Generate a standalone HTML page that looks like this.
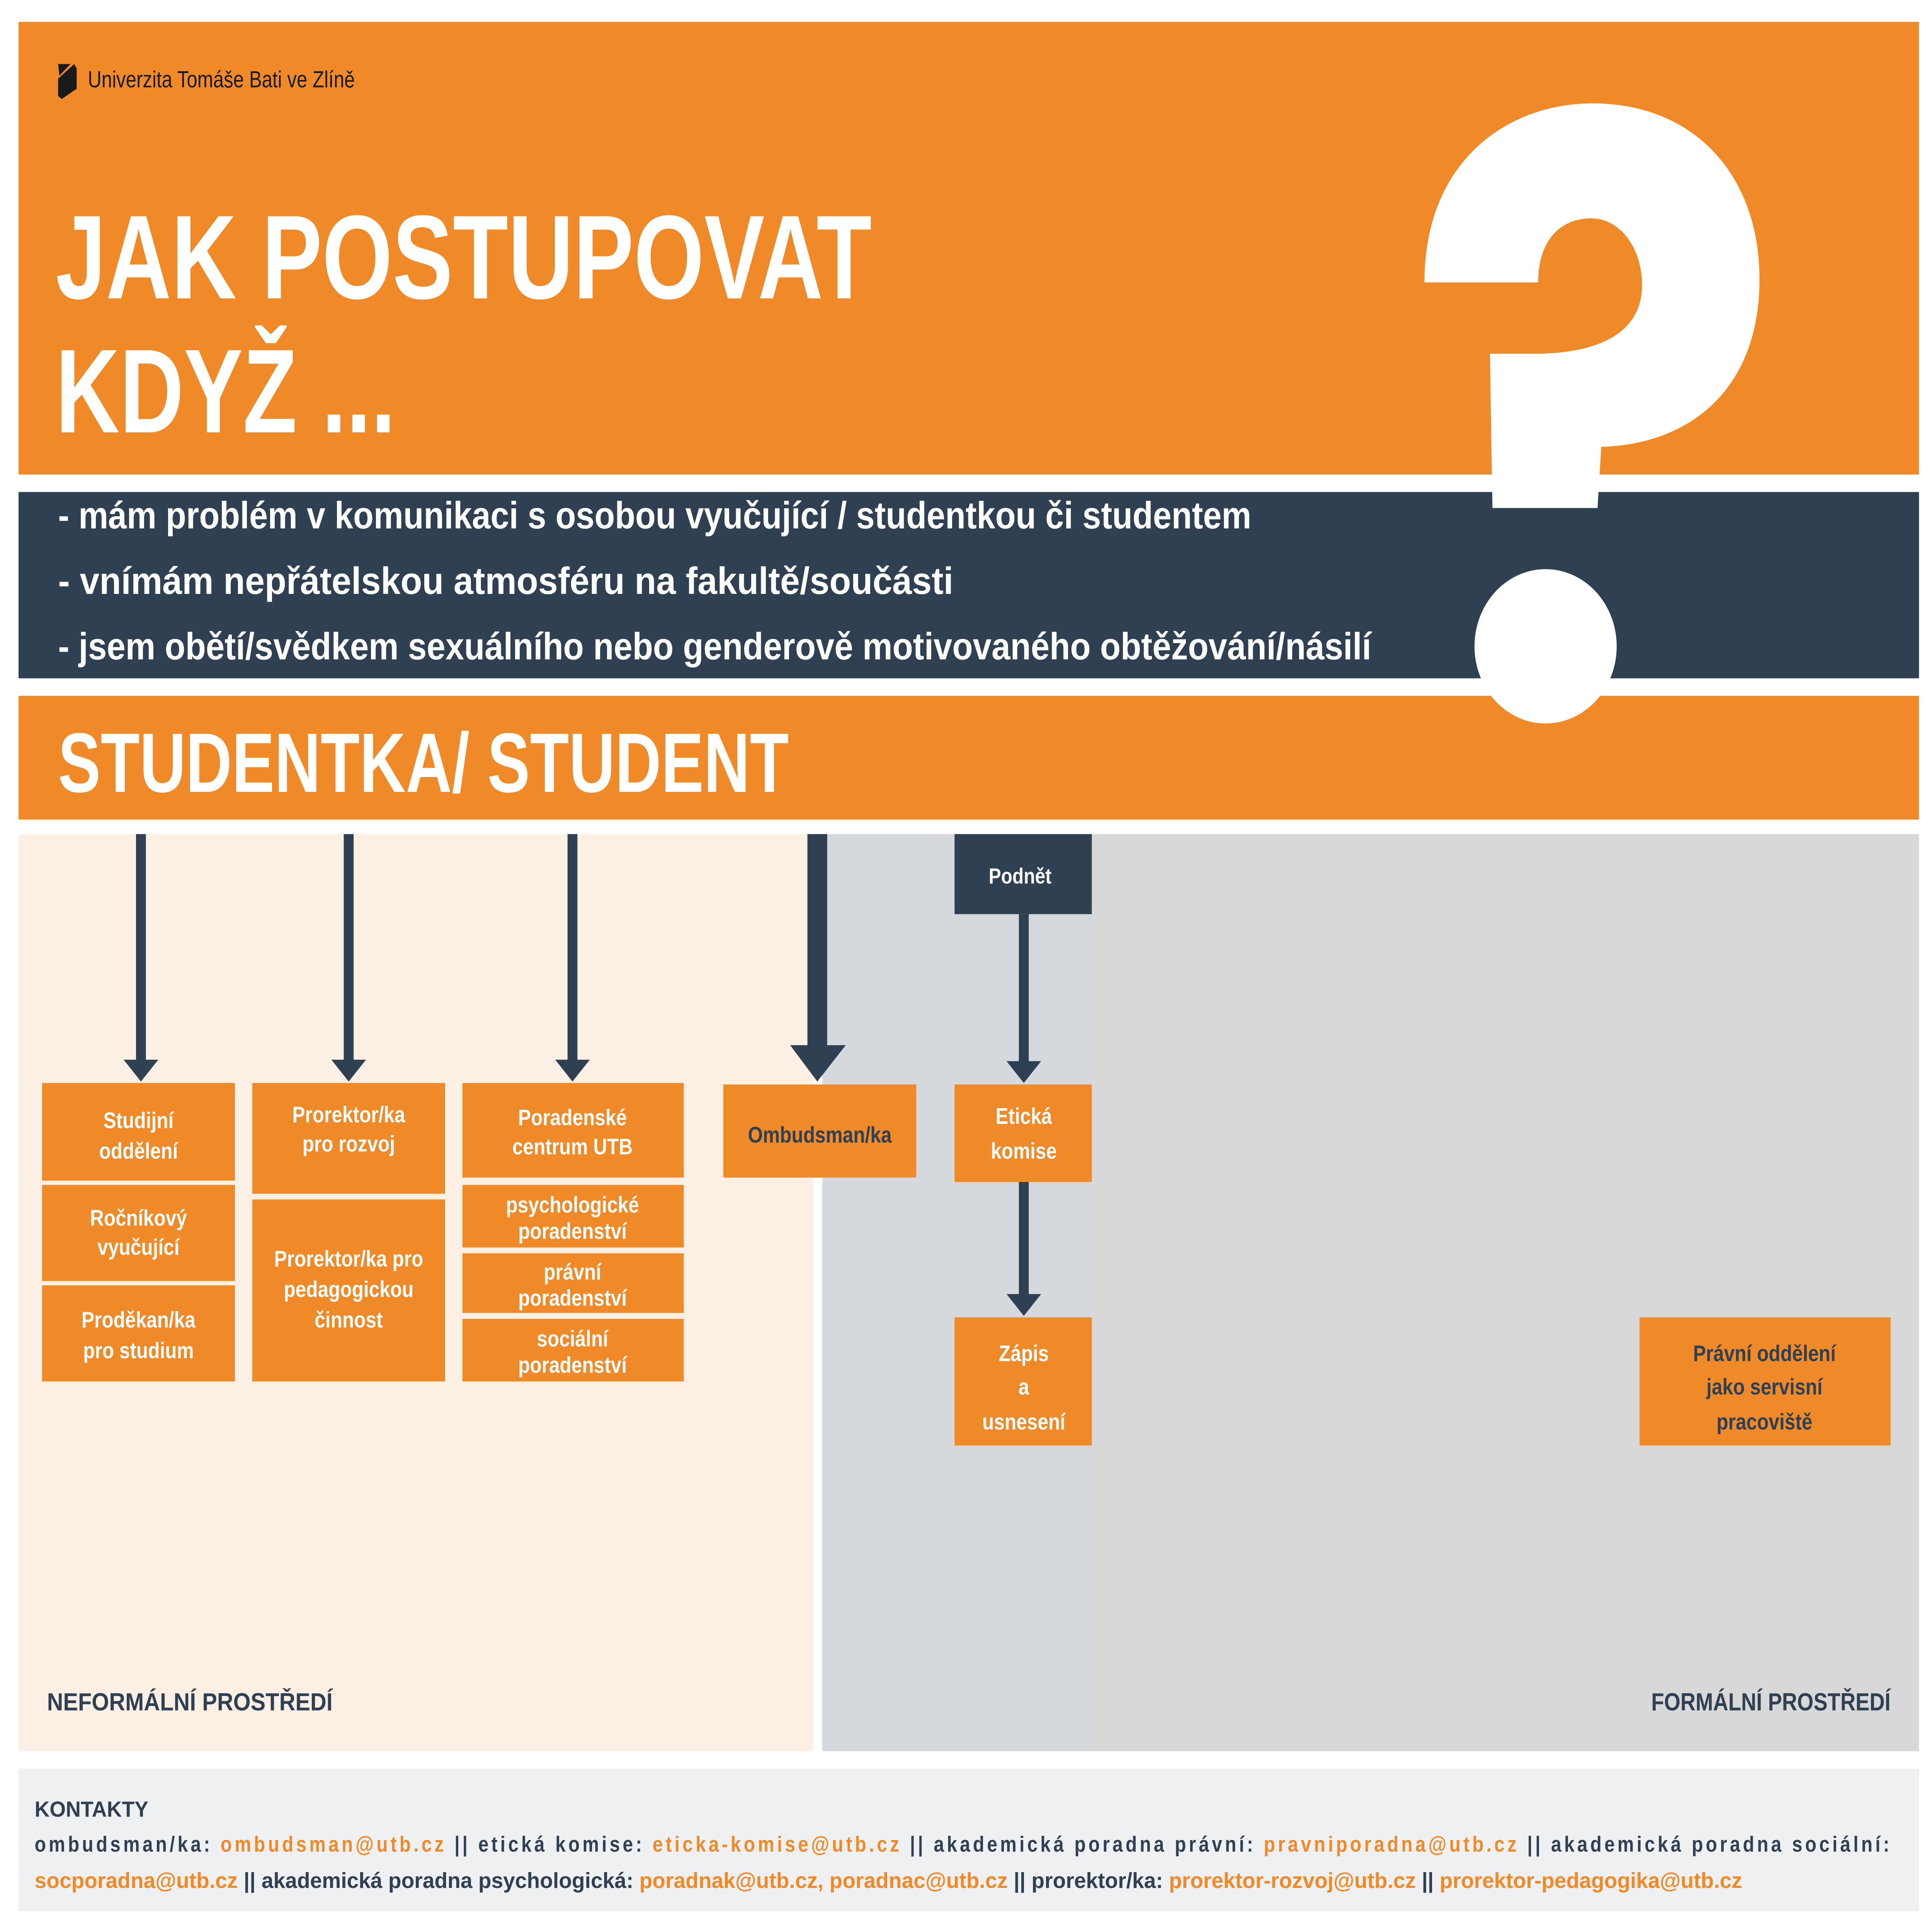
<!DOCTYPE html>
<html><head><meta charset="utf-8"><style>
html,body{margin:0;padding:0;background:#fff;overflow:hidden;width:100%;height:100%}
svg{display:block;width:100vw;height:100vh}
text{font-family:"Liberation Sans",sans-serif;font-weight:bold}
</style></head><body>
<svg viewBox="0 0 1562.5 1327.25" preserveAspectRatio="none" xmlns="http://www.w3.org/2000/svg">
<rect width="1562.5" height="1327.25" fill="#fff"/>
<rect x="15" y="15" width="1537" height="311" fill="#f08a28"/>
<path d="M47,44 L57,44 L48,52 Z M47,54 L60,44 L62,47 L62,61 L50,68 L47,66 Z" fill="#1a1a1a"/>
<text x="71" y="60" font-size="16" fill="#1a1a1a" style="font-weight:normal" textLength="216" lengthAdjust="spacingAndGlyphs">Univerzita Tomáše Bati ve Zlíně</text>
<text x="45" y="205" font-size="82" fill="#fff" textLength="660" lengthAdjust="spacingAndGlyphs">JAK POSTUPOVAT</text>
<text x="45" y="297" font-size="82" fill="#fff" textLength="275" lengthAdjust="spacingAndGlyphs">KDYŽ ...</text>
<rect x="15" y="338" width="1537" height="128" fill="#2f4053"/>
<text x="47" y="363" font-size="26" fill="#fff" textLength="965" lengthAdjust="spacingAndGlyphs">- mám problém v komunikaci s osobou vyučující / studentkou či studentem</text>
<text x="47" y="408" font-size="26" fill="#fff" textLength="724" lengthAdjust="spacingAndGlyphs">- vnímám nepřátelskou atmosféru na fakultě/součásti</text>
<text x="47" y="453" font-size="26" fill="#fff" textLength="1062" lengthAdjust="spacingAndGlyphs">- jsem obětí/svědkem sexuálního nebo genderově motivovaného obtěžování/násilí</text>
<rect x="15" y="478" width="1537" height="85" fill="#f08a28"/>
<text x="47" y="544" font-size="58" fill="#fff" textLength="591" lengthAdjust="spacingAndGlyphs">STUDENTKA/ STUDENT</text>
<path d="M1152,194 C1152,110 1220,71 1288,71 C1370,71 1423,120 1423,192 C1423,265 1370,305 1295,307 L1292,349 L1207,349 L1205,243 L1240,243 C1300,243 1328,225 1328,196 C1328,170 1310,150 1287,150 C1262,150 1244,165 1244,194 Z" fill="#fff"/>
<ellipse cx="1250" cy="444" rx="57.5" ry="53" fill="#fff"/>
<rect x="15" y="573" width="643" height="630" fill="#fcefe3"/>
<rect x="665" y="573" width="887" height="630" fill="#d8d8d8"/>
<rect x="665" y="573" width="218" height="630" fill="#d5d9dd"/>
<g fill="#2f4053">
<rect x="110" y="573" width="8" height="157"/><path d="M100,728 L128,728 L114,743 Z"/>
<rect x="278" y="573" width="8" height="157"/><path d="M268,728 L296,728 L282,743 Z"/>
<rect x="459" y="573" width="8" height="157"/><path d="M449,728 L477,728 L463,743 Z"/>
<rect x="653" y="573" width="16" height="147"/><path d="M639,718 L684,718 L661,743 Z"/>
<rect x="772" y="573" width="111" height="55"/>
<rect x="824" y="628" width="8" height="102"/><path d="M814,729 L842,729 L828,744 Z"/>
<rect x="824" y="812" width="8" height="78"/><path d="M814,889 L842,889 L828,904 Z"/>
</g>
<text x="825" y="607" font-size="15" fill="#fff" text-anchor="middle">Podnět</text>
<g fill="#f08a28">
<rect x="34" y="744" width="156" height="67"/><rect x="34" y="814" width="156" height="66"/><rect x="34" y="883" width="156" height="66"/>
<rect x="204" y="744" width="156" height="76"/><rect x="204" y="824" width="156" height="125"/>
<rect x="374" y="744" width="179" height="65"/><rect x="374" y="814" width="179" height="43"/><rect x="374" y="861" width="179" height="41"/><rect x="374" y="906" width="179" height="43"/>
<rect x="585" y="745" width="156" height="64"/>
<rect x="772" y="745" width="111" height="67"/>
<rect x="772" y="905" width="111" height="88"/>
<rect x="1326" y="905" width="203" height="88"/>
</g>
<g font-size="15.5" fill="#fff" text-anchor="middle">
<text x="112" y="775">Studijní</text><text x="112" y="796">oddělení</text>
<text x="112" y="842">Ročníkový</text><text x="112" y="862">vyučující</text>
<text x="112" y="912">Proděkan/ka</text><text x="112" y="933">pro studium</text>
<text x="282" y="771">Prorektor/ka</text><text x="282" y="791">pro rozvoj</text>
<text x="282" y="870">Prorektor/ka pro</text><text x="282" y="891">pedagogickou</text><text x="282" y="912">činnost</text>
<text x="463" y="773">Poradenské</text><text x="463" y="793">centrum UTB</text>
<text x="463" y="833">psychologické</text><text x="463" y="851">poradenství</text>
<text x="463" y="879">právní</text><text x="463" y="897">poradenství</text>
<text x="463" y="925">sociální</text><text x="463" y="943">poradenství</text>
<text x="828" y="772">Etická</text><text x="828" y="796">komise</text>
<text x="828" y="935">Zápis</text><text x="828" y="958">a</text><text x="828" y="982">usnesení</text>
</g>
<g font-size="15.5" fill="#2f4053" text-anchor="middle">
<text x="663" y="785">Ombudsman/ka</text>
<text x="1427" y="935">Právní oddělení</text><text x="1427" y="958">jako servisní</text><text x="1427" y="982">pracoviště</text>
</g>
<text x="38" y="1175" font-size="17" fill="#2f4053" textLength="231" lengthAdjust="spacingAndGlyphs">NEFORMÁLNÍ PROSTŘEDÍ</text>
<text x="1529" y="1175" font-size="17" fill="#2f4053" text-anchor="end">FORMÁLNÍ PROSTŘEDÍ</text>
<rect x="15" y="1215" width="1537" height="98" fill="#eef0f2"/>
<text x="28" y="1248" font-size="15" fill="#2f4053" textLength="92" lengthAdjust="spacingAndGlyphs">KONTAKTY</text>
<text x="28" y="1272" font-size="15" fill="#2f4053" textLength="1500" lengthAdjust="spacing">ombudsman/ka: <tspan fill="#f08a28">ombudsman@utb.cz</tspan> || etická komise: <tspan fill="#f08a28">eticka-komise@utb.cz</tspan> || akademická poradna právní: <tspan fill="#f08a28">pravniporadna@utb.cz</tspan> || akademická poradna sociální:</text>
<text x="28" y="1297" font-size="15" fill="#2f4053" textLength="1381" lengthAdjust="spacingAndGlyphs"><tspan fill="#f08a28">socporadna@utb.cz</tspan> || akademická poradna psychologická: <tspan fill="#f08a28">poradnak@utb.cz, poradnac@utb.cz</tspan> || prorektor/ka: <tspan fill="#f08a28">prorektor-rozvoj@utb.cz</tspan> || <tspan fill="#f08a28">prorektor-pedagogika@utb.cz</tspan></text>
</svg>
</body></html>
